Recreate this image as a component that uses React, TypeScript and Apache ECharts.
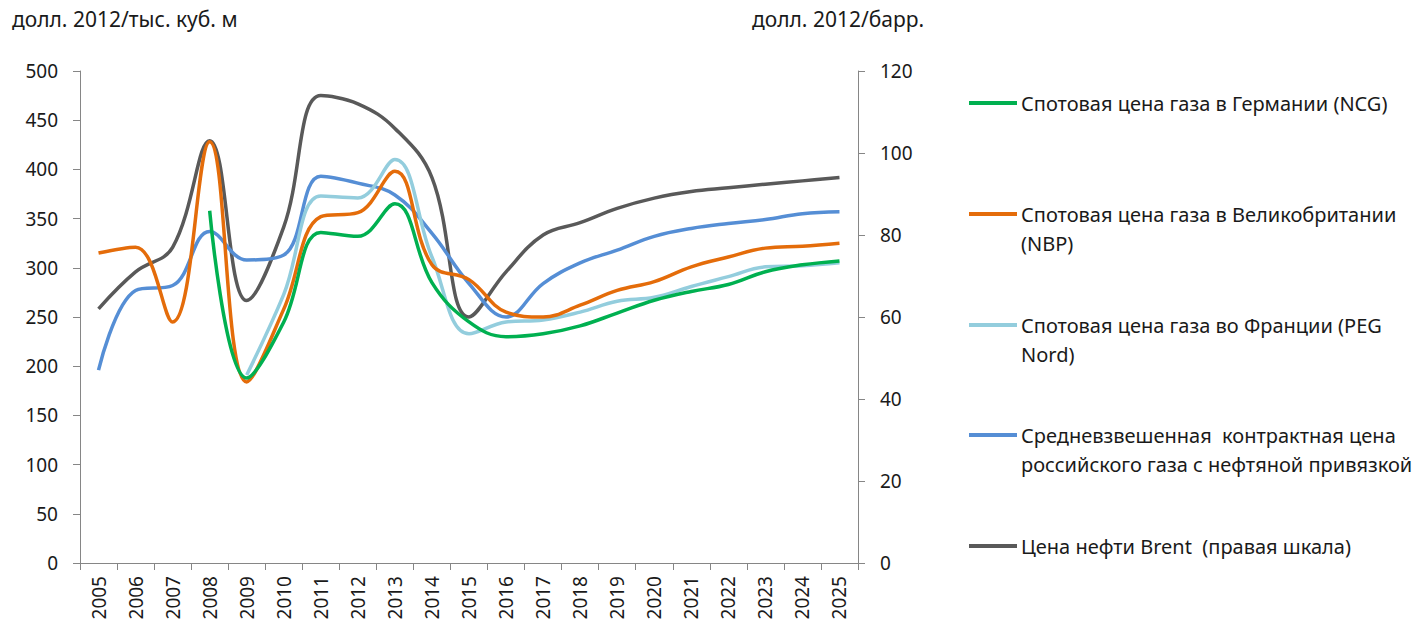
import React, { useEffect, useRef } from "react";
import * as echarts from "echarts";

const years = ["2005","2006","2007","2008","2009","2010","2011","2012","2013","2014","2015","2016","2017","2018","2019","2020","2021","2022","2023","2024","2025"];
const ncg = [null,null,null,358,188,245,336,332,365,285,245,230,233,241,254,267,276,283,296,303,307];
const nbp = [315,321,245,428,184,258,352,356,398,303,288,255,250,262,277,286,301,311,320,322,325];
const peg = [null,null,null,null,191,273,373,371,410,311,233,245,247,255,266,270,281,291,301,302,305];
const contract = [196,277,282,337,308,313,393,386,374,335,284,250,284,305,318,332,340,345,349,355,357];
const brent = [62,71,77,103,64,82,114,112,106,94,60,71,80,83,86.5,89,90.6,91.5,92.4,93.2,94];

const leftTicks = { min: 0, max: 500, interval: 50 };
const rightTicks = { min: 0, max: 120, interval: 20 };

const names = [
  "Спотовая цена газа в Германии (NCG)",
  "Спотовая цена газа в Великобритании (NBP)",
  "Спотовая цена газа во Франции (PEG Nord)",
  "Средневзвешенная контрактная цена российского газа с нефтяной привязкой",
  "Цена нефти Brent  (правая шкала)",
];
const firstLines = [
  "Спотовая цена газа в Германии (NCG)",
  "Спотовая цена газа в Великобритании",
  "Спотовая цена газа во Франции (PEG",
  "Средневзвешенная  контрактная цена",
  "Цена нефти Brent  (правая шкала)",
];
const secondLines = ["", "(NBP)", "Nord)", "российского газа с нефтяной привязкой", ""];
const colors = ["#00B050", "#E46C0A", "#93CDDD", "#558ED5", "#595959"];
const legendY = [103, 214, 325, 435, 546];

const FONT = "Noto Sans";
const TXT = "#1a1a1a";
const LFS = 20;

export default function App() {
  const ref = useRef<HTMLDivElement>(null);
  useEffect(() => {
    if (!ref.current) return;
    const chart = echarts.init(ref.current, undefined, { renderer: "svg" });
    const dataSets = [ncg, nbp, peg, contract, brent];
    const series = dataSets.map((d, i) => ({
      name: names[i],
      type: "line",
      data: d,
      yAxisIndex: i === 4 ? 1 : 0,
      smooth: 0.4,
      showSymbol: false,
      symbol: "none",
      lineStyle: { color: colors[i], width: 3.5 },
      itemStyle: { color: colors[i] },
      z: 10 - i,
    }));
    const legends = names.map((n, i) => ({
      data: [n],
      left: 969,
      top: legendY[i] - 13,
      padding: 0,
      orient: "vertical",
      icon: "rect",
      itemWidth: 48,
      itemHeight: 4,
      selectedMode: false,
      formatter: () => firstLines[i],
      textStyle: { fontFamily: FONT, fontSize: LFS, color: TXT, lineHeight: 26, padding: [0, 0, 0, -1] },
    }));
    const graphics: any[] = [];
    secondLines.forEach((t, i) => {
      if (!t) return;
      graphics.push({
        type: "text",
        left: 1021,
        top: legendY[i] + 29 - 13,
        style: { text: t, font: `${LFS}px "${FONT}"`, fill: TXT, lineHeight: 26 },
      });
    });
    chart.setOption({
      animation: false,
      backgroundColor: "#ffffff",
      title: [
        { text: "долл. 2012/тыс. куб. м", left: 12, top: 8, padding: 0, textStyle: { fontFamily: FONT, fontSize: 21, fontWeight: "normal", color: TXT } },
        { text: "долл. 2012/барр.", left: 752, top: 8, padding: 0, textStyle: { fontFamily: FONT, fontSize: 21, fontWeight: "normal", color: TXT } },
      ],
      legend: legends,
      graphic: graphics,
      grid: { left: 80, right: 566, top: 71, bottom: 64, containLabel: false },
      xAxis: {
        type: "category",
        data: years,
        boundaryGap: true,
        axisLine: { lineStyle: { color: "#868686", width: 1 } },
        axisTick: { show: true, interval: 0, length: 7, lineStyle: { color: "#868686" } },
        axisLabel: { interval: 0, rotate: 90, margin: 13, fontFamily: FONT, fontSize: 19, color: TXT },
        splitLine: { show: false },
      },
      yAxis: [
        {
          type: "value",
          ...leftTicks,
          position: "left",
          axisLine: { show: true, lineStyle: { color: "#868686", width: 1 } },
          axisTick: { show: true, length: 7, lineStyle: { color: "#868686" } },
          axisLabel: { margin: 22, fontFamily: FONT, fontSize: 19, color: TXT },
          splitLine: { show: false },
        },
        {
          type: "value",
          ...rightTicks,
          position: "right",
          axisLine: { show: true, lineStyle: { color: "#868686", width: 1 } },
          axisTick: { show: true, length: 7, lineStyle: { color: "#868686" } },
          axisLabel: { margin: 22, fontFamily: FONT, fontSize: 19, color: TXT },
          splitLine: { show: false },
        },
      ],
      series,
    });
    return () => chart.dispose();
  }, []);
  return <div ref={ref} style={{ width: 1424, height: 627, position: "absolute", left: 0, top: 0 }} />;
}
